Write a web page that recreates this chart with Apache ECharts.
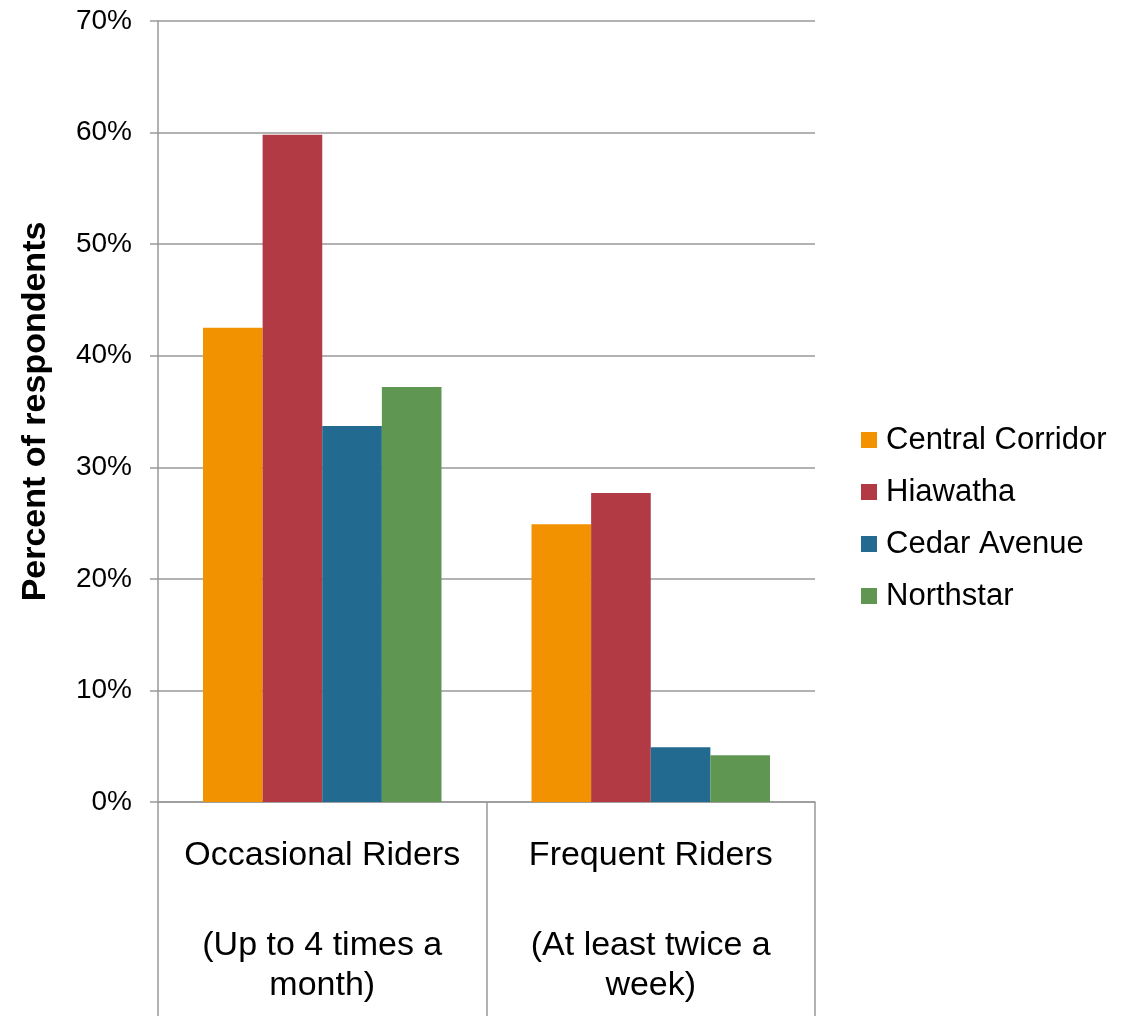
<!DOCTYPE html>
<html>
<head>
<meta charset="utf-8">
<script src="https://cdn.jsdelivr.net/npm/echarts@6/dist/echarts.min.js"></script>
<style>
html,body{margin:0;padding:0;background:#fff;}
#chart{width:1129px;height:1016px;}
</style>
</head>
<body>
<div id="chart"></div>
<script>
var categories = ['Occasional Riders', 'Frequent Riders'];
var categoryNotes = ['(Up to 4 times a', '(At least twice a'];
var categoryNotes2 = ['month)', 'week)'];
var seriesNames = ['Central Corridor', 'Hiawatha', 'Cedar Avenue', 'Northstar'];
var centralCorridor = [42.5, 24.9];
var hiawatha = [59.8, 27.7];
var cedarAvenue = [33.7, 4.9];
var northstar = [37.2, 4.2];
var seriesColors = ['#F39200', '#B13A45', '#226A8F', '#5F9752'];
var yMin = 0, yMax = 70, yStep = 10;

var FONT = '"Liberation Sans", Arial, Helvetica, sans-serif';
var seriesData = [centralCorridor, hiawatha, cedarAvenue, northstar];

var chart = echarts.init(document.getElementById('chart'), null, {renderer: 'canvas'});
var option = {
  backgroundColor: '#ffffff',
  animation: false,
  grid: {left: 158, right: 314, top: 21, bottom: 214},
  legend: {
    orient: 'vertical',
    left: 856,
    top: 419,
    itemWidth: 16,
    itemHeight: 16,
    itemGap: 20,
    icon: 'rect',
    data: seriesNames,
    textStyle: {fontFamily: FONT, fontSize: 31, lineHeight: 32, color: '#000', padding: [0, 0, 0, 4]}
  },
  xAxis: {
    type: 'category',
    data: categories,
    axisLine: {show: true, lineStyle: {color: '#999', width: 1.5}},
    axisTick: {show: true, length: 214, alignWithLabel: false, lineStyle: {color: '#999', width: 1.5}},
    axisLabel: {
      interval: 0,
      margin: 34,
      formatter: function (v, i) {
        return '{a|' + v + '}\n{g| }\n{a|' + categoryNotes[i] + '}\n{a|' + categoryNotes2[i] + '}';
      },
      rich: {
        a: {fontFamily: FONT, fontSize: 34, lineHeight: 40, color: '#000', align: 'center'},
        g: {fontSize: 10, lineHeight: 50}
      }
    },
    splitLine: {show: false}
  },
  yAxis: {
    type: 'value',
    min: yMin,
    max: yMax,
    interval: yStep,
    name: 'Percent of respondents',
    nameLocation: 'middle',
    nameRotate: 90,
    nameGap: 105,
    nameTextStyle: {fontFamily: FONT, fontSize: 34, fontWeight: 'bold', color: '#000'},
    axisLine: {show: true, lineStyle: {color: '#999', width: 1.5}},
    axisTick: {show: true, length: 8, inside: false, lineStyle: {color: '#999', width: 1.5}},
    axisLabel: {fontFamily: FONT, fontSize: 28, color: '#000', margin: 26, formatter: function (v) { return v + '%'; }},
    splitLine: {show: true, lineStyle: {color: '#999', width: 1.5}}
  },
  series: seriesNames.map(function (name, k) {
    return {
      name: name,
      type: 'bar',
      data: seriesData[k],
      barGap: '0%',
      barCategoryGap: '27.4%',
      itemStyle: {color: seriesColors[k]}
    };
  })
};
chart.setOption(option);
</script>
</body>
</html>
